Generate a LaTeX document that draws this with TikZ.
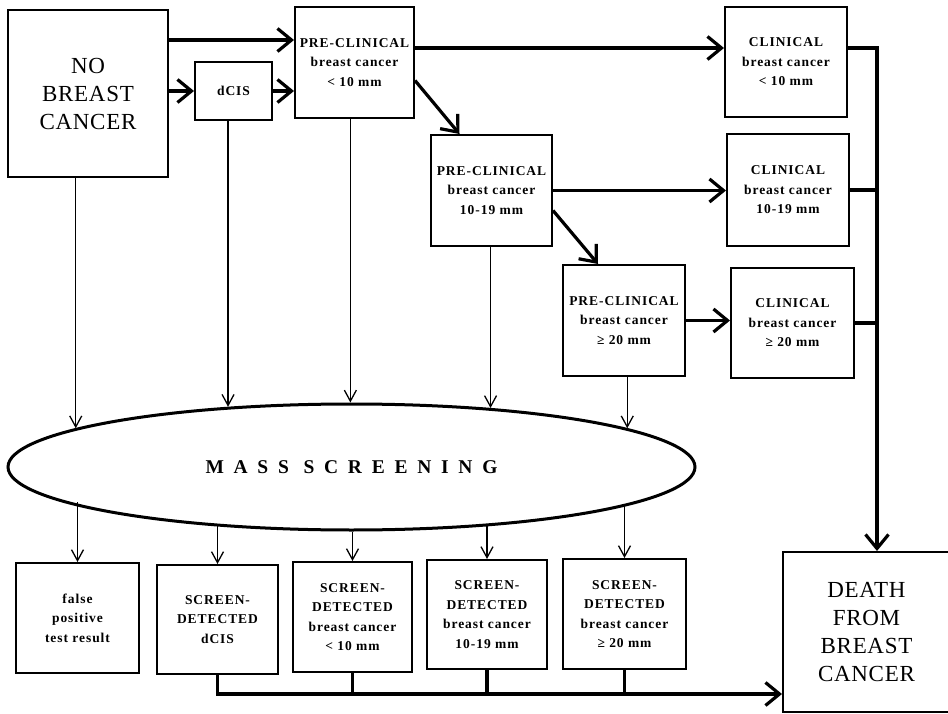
\documentclass[tikz,border=0pt]{standalone}
\usepackage{fontspec}
\setmainfont{Liberation Serif}
\newfontfamily\trackfont[LetterSpace=7]{Liberation Serif}
\newfontfamily\bigfont[LetterSpace=3]{Liberation Serif}
\newfontfamily\massfont[LetterSpace=50]{Liberation Serif}
\usetikzlibrary{arrows.meta,shapes.geometric}

\begin{document}
\begin{tikzpicture}[x=1pt,y=-1pt,box/.style={draw, line width=2pt, align=center, inner sep=2pt, font=\trackfont\bfseries\fontsize{13.5}{19.5}\selectfont},bigbox/.style={box, font=\bigfont\fontsize{23}{28}\selectfont},progress/.style={line width=3.2pt, -{Straight Barb[length=14pt,width=23pt]}},scr/.style={line width=1.3pt, -{Straight Barb[length=11pt,width=12pt]}},bar/.style={line width=3.6pt}]
\useasboundingbox (0,0) rectangle (948,714);
\node[bigbox, minimum width=160pt, minimum height=167pt] (none) at (88,93.5) {NO\\BREAST\\CANCER};
\node[box, minimum width=77pt, minimum height=58pt] (dcis) at (233.5,91) {dCIS};
\node[box, minimum width=119pt, minimum height=111pt] (pre1) at (354.5,62.5) {PRE-CLINICAL\\breast cancer\\< 10 mm};
\node[box, minimum width=121pt, minimum height=111pt] (pre2) at (491.5,190.5) {PRE-CLINICAL\\breast cancer\\10-19 mm};
\node[box, minimum width=122pt, minimum height=111pt] (pre3) at (624,320.5) {PRE-CLINICAL\\breast cancer\\≥ 20 mm};
\node[box, minimum width=122pt, minimum height=110pt] (clin1) at (786,62) {CLINICAL\\breast cancer\\< 10 mm};
\node[box, minimum width=122pt, minimum height=112pt] (clin2) at (788,190) {CLINICAL\\breast cancer\\10-19 mm};
\node[box, minimum width=123pt, minimum height=110pt] (clin3) at (792.5,323) {CLINICAL\\breast cancer\\≥ 20 mm};
\node[bigbox, minimum width=167pt, minimum height=160pt] (death) at (866.5,632) {DEATH\\FROM\\BREAST\\CANCER};
\node[draw, ellipse, line width=3pt, minimum width=687pt, minimum height=126pt, font=\massfont\bfseries\fontsize{19.5}{22}\selectfont] (mass) at (351.5,467) {MASS SCREENING};
\node[box, minimum width=123pt, minimum height=110pt] (fp) at (77.5,618) {false\\positive\\test result};
\node[box, minimum width=121pt, minimum height=109pt] (sdD) at (217.5,619.5) {SCREEN-\\DETECTED\\dCIS};
\node[box, minimum width=119pt, minimum height=110pt] (sdA) at (352.5,617) {SCREEN-\\DETECTED\\breast cancer\\< 10 mm};
\node[box, minimum width=120pt, minimum height=109pt] (sdB) at (487,614.5) {SCREEN-\\DETECTED\\breast cancer\\10-19 mm};
\node[box, minimum width=123pt, minimum height=110pt] (sdC) at (624.5,614) {SCREEN-\\DETECTED\\breast cancer\\≥ 20 mm};
\coordinate (join) at (877,48);
\coordinate (bus) at (0,694);
\draw[progress] (none.east |- 0,40) -- (pre1.west |- 0,40);
\draw[progress] (none.east |- dcis.west) -- (dcis.west);
\draw[progress] (dcis.east) -- (pre1.west |- dcis.east);
\draw[progress] (pre1.east |- join) -- (clin1.west |- join);
\draw[progress] ([yshift=-18pt]pre1.east) -- ([xshift=-32pt]pre2.north);
\draw[progress] (pre2.east) -- (clin2.west |- pre2.east);
\draw[progress] ([yshift=-20pt]pre2.east) -- ([xshift=-26pt]pre3.north);
\draw[progress] (pre3.east) -- (clin3.west |- pre3.east);
\draw[progress] (clin1.east |- join) -- (join) -- (join |- death.north);
\draw[bar] (clin2.east) -- (clin2.east -| join);
\draw[bar] (clin3.east) -- (clin3.east -| join);
\draw[scr] (mass.172.07 |- none.south) -- (mass.172.07);
\draw[scr] (mass.154.54 |- dcis.south) -- (mass.154.54);
\draw[scr] (mass.91.36 |- pre1.south) -- (mass.91.36);
\draw[scr] (mass.23.14 |- pre2.south) -- (mass.23.14);
\draw[scr] (mass.8.25 |- pre3.south) -- (mass.8.25);
\draw[scr] (fp.north |- mass.187.9) -- (fp.north);
\draw[scr] (sdD.north |- mass.203.4) -- (sdD.north);
\draw[scr] (sdA.north |- mass.270) -- (sdA.north);
\draw[scr] (sdB.north |- mass.336.86) -- (sdB.north);
\draw[scr] (sdC.north |- mass.352.03) -- (sdC.north);
\draw[progress] (sdD.south) |- (death.west |- bus);
\foreach \n in {sdA,sdB,sdC} \draw[bar] (\n.south) -- (\n.south |- bus);
\end{tikzpicture}
\end{document}
